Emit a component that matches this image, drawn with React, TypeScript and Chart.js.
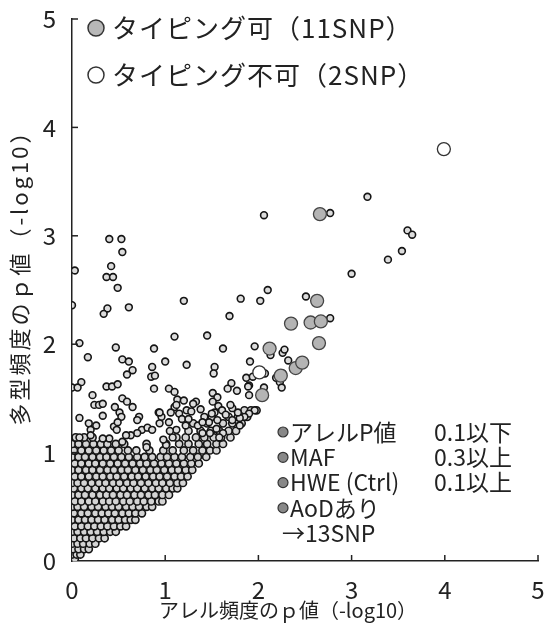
import React, { useEffect, useRef } from "react";
import { Chart, registerables } from "chart.js";

Chart.register(...registerables);

const FONT = '"Noto Sans CJK JP", "Noto Sans", sans-serif';

// axis ticks
const xTickValues = [0, 1, 2, 3, 4, 5];
const yTickValues = [0, 1, 2, 3, 4, 5];

// dense cloud: each row = [y, x values]
const cloudRows: [number, number[]][] = [
  [0.02, [0.0, 0.03]],
  [0.06, [0.0, 0.05, 0.09]],
  [0.11, [0.01, 0.07, 0.13, 0.18]],
  [0.16, [0.0, 0.06, 0.12, 0.19, 0.25]],
  [0.21, [0.02, 0.09, 0.15, 0.22, 0.29, 0.35]],
  [0.27, [0.0, 0.06, 0.13, 0.2, 0.27, 0.34, 0.41, 0.47]],
  [0.32, [0.03, 0.1, 0.17, 0.24, 0.31, 0.38, 0.45, 0.52, 0.58]],
  [0.38, [0.0, 0.07, 0.14, 0.21, 0.28, 0.35, 0.43, 0.5, 0.57, 0.63, 0.68]],
  [0.44, [0.02, 0.1, 0.17, 0.25, 0.32, 0.39, 0.46, 0.54, 0.61, 0.68, 0.75]],
  [0.5, [0.0, 0.06, 0.13, 0.21, 0.28, 0.36, 0.43, 0.5, 0.58, 0.65, 0.72, 0.8, 0.86]],
  [0.55, [0.03, 0.1, 0.18, 0.25, 0.33, 0.4, 0.47, 0.55, 0.62, 0.7, 0.77, 0.85, 0.93, 0.97]],
  [0.61, [0.0, 0.07, 0.14, 0.22, 0.3, 0.37, 0.44, 0.52, 0.59, 0.67, 0.74, 0.82, 0.89, 0.97, 1.04]],
  [0.67, [0.02, 0.1, 0.17, 0.25, 0.33, 0.4, 0.48, 0.55, 0.63, 0.7, 0.78, 0.86, 0.93, 1.01, 1.08, 1.13]],
  [0.72, [0.0, 0.06, 0.13, 0.21, 0.29, 0.36, 0.44, 0.51, 0.59, 0.66, 0.74, 0.82, 0.9, 0.97, 1.05, 1.13, 1.19]],
  [0.78, [0.03, 0.1, 0.18, 0.26, 0.33, 0.41, 0.48, 0.56, 0.64, 0.71, 0.79, 0.87, 0.94, 1.02, 1.1, 1.17, 1.24]],
  [0.84, [0.0, 0.07, 0.15, 0.22, 0.3, 0.38, 0.45, 0.53, 0.6, 0.68, 0.76, 0.84, 0.91, 0.99, 1.07, 1.14, 1.22, 1.29]],
  [0.9, [0.03, 0.1, 0.18, 0.25, 0.33, 0.41, 0.49, 0.57, 0.65, 0.73, 0.8, 0.88, 0.96, 1.04, 1.12, 1.2, 1.28, 1.36]],
  [0.96, [0.0, 0.07, 0.14, 0.22, 0.3, 0.37, 0.45, 0.53, 0.61, 0.7, 0.78, 0.86, 0.95, 1.02, 1.1, 1.18, 1.27, 1.35, 1.44]],
  [1.02, [0.02, 0.1, 0.18, 0.26, 0.34, 0.42, 0.5, 0.6, 0.69, 0.83, 0.98, 1.08, 1.2, 1.3, 1.4, 1.48, 1.55]],
  [1.08, [0.0, 0.07, 0.15, 0.23, 0.31, 0.38, 0.47, 0.56, 0.8, 1.01, 1.15, 1.25, 1.36, 1.45, 1.55, 1.62]],
  [1.14, [0.04, 0.13, 0.22, 1.12, 1.22, 1.33, 1.42, 1.52, 1.6, 1.7]],
  [1.2, [1.25, 1.38, 1.49, 1.58, 1.68, 1.76]],
  [1.27, [1.3, 1.45, 1.62, 1.72, 1.82]],
  [1.33, [1.5, 1.68, 1.78, 1.88]],
  [1.39, [1.85, 1.92, 1.98]],
];

// scattered small points [x, y]
const scatterPoints: [number, number][] = [
  [0.4, 2.97], [0.53, 2.97], [0.54, 2.85], [0.42, 2.72], [0.03, 2.68], [0.37, 2.62], [0.44, 2.62],
  [0.49, 2.52], [0.0, 2.36], [0.38, 2.33], [0.34, 2.28], [0.61, 2.34], [0.08, 2.01], [0.47, 1.97],
  [1.1, 2.07], [0.17, 1.88], [0.54, 1.86], [0.61, 1.84], [0.88, 1.96], [1.0, 1.84], [0.65, 1.76],
  [0.59, 1.72], [0.86, 1.79], [0.85, 1.7], [0.89, 1.71], [0.1, 1.65], [0.0, 1.6], [0.06, 1.6],
  [0.37, 1.61], [0.43, 1.61], [0.49, 1.63], [0.88, 1.59], [1.04, 1.59], [1.2, 2.4], [1.45, 2.08],
  [1.69, 2.26], [1.81, 2.42], [2.02, 2.4], [2.1, 2.5], [2.06, 3.19], [2.77, 3.21], [2.51, 2.44],
  [2.77, 2.24], [1.96, 1.98], [2.13, 1.9], [2.26, 1.92], [2.28, 1.95], [2.32, 1.85], [1.91, 1.84],
  [2.07, 1.73], [2.26, 1.73], [1.87, 1.69], [1.94, 1.7], [2.19, 1.69], [2.23, 1.65], [2.25, 1.6],
  [1.9, 1.62], [1.9, 1.53], [2.06, 1.6], [1.62, 1.96], [1.23, 1.81], [1.53, 1.79], [1.52, 1.73],
  [1.71, 1.64], [1.67, 1.59], [1.77, 1.57], [1.89, 1.61], [1.51, 1.55], [1.56, 1.51], [1.96, 1.39],
  [1.9, 1.36], [1.85, 1.33], [3.17, 3.36], [3.6, 3.05], [3.65, 3.01], [3.54, 2.86], [3.39, 2.78],
  [3.0, 2.65], [0.22, 1.53], [1.1, 1.56], [0.24, 1.44], [0.29, 1.44], [0.33, 1.45], [0.54, 1.5],
  [0.59, 1.47], [0.65, 1.42], [0.46, 1.42], [0.51, 1.37], [0.53, 1.33], [1.13, 1.49], [1.1, 1.42],
  [1.06, 1.37], [0.93, 1.37], [0.96, 1.33], [1.04, 1.28], [1.15, 1.36], [1.18, 1.31], [0.08, 1.32],
  [0.33, 1.34], [0.18, 1.27], [0.26, 1.25], [0.2, 1.21], [0.45, 1.24], [0.48, 1.21], [0.49, 1.28],
  [0.72, 1.33], [0.7, 1.3], [0.75, 1.21], [0.81, 1.23], [0.86, 1.21], [0.7, 1.18], [0.63, 1.16],
  [0.58, 1.16], [0.4, 1.13], [0.33, 1.13], [0.08, 1.14], [0.2, 1.16], [0.94, 1.27], [1.08, 1.14],
  [1.12, 1.21], [1.01, 1.07], [0.8, 1.05], [0.54, 1.1], [1.51, 1.47], [1.57, 1.43], [1.53, 1.37],
  [1.61, 1.39], [1.72, 1.41], [1.8, 1.32], [1.33, 1.47], [1.23, 1.39], [1.12, 1.44], [0.94, 1.37],
  [1.2, 1.48], [1.3, 1.45], [1.28, 1.38], [1.38, 1.4], [1.42, 1.33], [1.5, 1.36], [1.47, 1.28],
  [1.56, 1.3], [1.65, 1.35], [1.7, 1.44], [1.72, 1.3], [1.78, 1.37], [1.8, 1.25], [1.25, 1.31],
  [1.35, 1.25], [1.55, 1.22], [1.62, 1.18], [1.4, 1.18], [0.98, 1.12], [1.05, 1.2], [1.22, 1.25],
  [1.4, 1.28], [1.58, 1.14], [1.48, 1.18],
];

// typing possible (11 SNP) [x, y]
const typedOk: [number, number][] = [
  [2.66, 3.2], [2.63, 2.4], [2.35, 2.19], [2.56, 2.2], [2.67, 2.21], [2.65, 2.01],
  [2.12, 1.96], [2.4, 1.78], [2.04, 1.53], [2.24, 1.71], [2.47, 1.83],
];

// typing impossible (2 SNP) [x, y]
const typedNg: [number, number][] = [
  [3.99, 3.8], [2.01, 1.74],
];

const cloudData = cloudRows.flatMap(([y, xs]) => xs.map((x) => ({ x, y })));
const scatterData = scatterPoints.map(([x, y]) => ({ x, y }));

const overlay = {
  id: "overlay",
  afterDraw(chart: any) {
    const ctx = chart.ctx as CanvasRenderingContext2D;
    const xs = chart.scales.x;
    const ys = chart.scales.y;
    const left = chart.chartArea.left;
    const bottom = chart.chartArea.bottom;
    ctx.save();
    ctx.strokeStyle = "#222";
    ctx.lineWidth = 1.5;
    // inward ticks
    xTickValues.slice(1).forEach((v) => {
      const px = xs.getPixelForValue(v);
      ctx.beginPath();
      ctx.moveTo(px, bottom);
      ctx.lineTo(px, bottom - 6);
      ctx.stroke();
    });
    yTickValues.slice(1).forEach((v) => {
      const py = ys.getPixelForValue(v);
      ctx.beginPath();
      ctx.moveTo(left, py);
      ctx.lineTo(left + 6, py);
      ctx.stroke();
    });

    const circle = (x: number, y: number, r: number, fill: string, stroke: string, lw: number) => {
      ctx.beginPath();
      ctx.arc(x, y, r, 0, Math.PI * 2);
      ctx.fillStyle = fill;
      ctx.fill();
      ctx.lineWidth = lw;
      ctx.strokeStyle = stroke;
      ctx.stroke();
    };

    ctx.fillStyle = "#222";
    ctx.textBaseline = "middle";
    ctx.textAlign = "left";
    // top-left legend
    ctx.font = `26px ${FONT}`;
    (ctx as any).letterSpacing = "1px";
    circle(96, 28, 8, "#b8b8b8", "#333", 1.5);
    ctx.fillStyle = "#222";
    ctx.fillText("タイピング可（11SNP）", 112, 28);
    circle(96, 75, 8, "#ffffff", "#333", 1.5);
    ctx.fillStyle = "#222";
    ctx.fillText("タイピング不可（2SNP）", 112, 75);
    (ctx as any).letterSpacing = "0px";

    // bottom-right notes
    ctx.font = `23px ${FONT}`;
    const notes: [string, string][] = [
      ["アレルP値", "0.1以下"],
      ["MAF", "0.3以上"],
      ["HWE (Ctrl)", "0.1以上"],
      ["AoDあり", ""],
    ];
    notes.forEach(([a, b], i) => {
      const y = 432 + i * 25.3;
      circle(283, y, 5, "#888", "#333", 1.2);
      ctx.fillStyle = "#222";
      ctx.fillText(a, 290, y);
      if (b) ctx.fillText(b, 434, y);
    });
    ctx.fillText("→13SNP", 282, 533);

    // axis titles
    ctx.font = `20px ${FONT}`;
    ctx.textAlign = "center";
    ctx.fillText("アレル頻度のｐ値（-log10）", 288, 610);
    ctx.save();
    ctx.translate(20, 272);
    ctx.rotate(-Math.PI / 2);
    ctx.font = `22px ${FONT}`;
    (ctx as any).letterSpacing = "3px";
    ctx.fillText("多型頻度のｐ値（-log10）", 0, 0);
    ctx.restore();
    ctx.restore();
  },
};

export default function App() {
  const ref = useRef<HTMLCanvasElement>(null);
  useEffect(() => {
    if (!ref.current) return;
    const chart = new Chart(ref.current, {
      type: "scatter",
      data: {
        datasets: [
          {
            label: "タイピング不可",
            data: typedNg.map(([x, y]) => ({ x, y })),
            pointRadius: 6.5,
            backgroundColor: "#ffffff",
            borderColor: "#333",
            borderWidth: 1.3,
          },
          {
            label: "タイピング可",
            data: typedOk.map(([x, y]) => ({ x, y })),
            pointRadius: 6.5,
            backgroundColor: "#b4b4b4",
            borderColor: "#444",
            borderWidth: 1.3,
          },
          {
            label: "scatter",
            data: scatterData,
            pointRadius: 3.4,
            backgroundColor: "#dcdcdc",
            borderColor: "#151515",
            borderWidth: 1.6,
          },
          {
            label: "cloud",
            data: cloudData,
            pointRadius: 3.6,
            backgroundColor: "#d4d4d4",
            borderColor: "#151515",
            borderWidth: 1.6,
          },
        ],
      },
      options: {
        responsive: false,
        animation: false,
        devicePixelRatio: 1,
        layout: { padding: { top: 19, right: 8, left: 0, bottom: 0 } },
        plugins: { legend: { display: false }, tooltip: { enabled: false } },
        scales: {
          x: {
            type: "linear",
            min: 0,
            max: 5,
            afterFit: (s: any) => { s.height = 67; s.paddingLeft = 0; s.paddingRight = 0; },
            afterBuildTicks: (s: any) => { s.ticks = xTickValues.map((v) => ({ value: v })); },
            ticks: { stepSize: 1, color: "#222", font: { size: 24, family: FONT }, padding: 14 },
            grid: { drawOnChartArea: false, drawTicks: false },
            border: { color: "#222", width: 1.5 },
          },
          y: {
            type: "linear",
            min: 0,
            max: 5,
            afterFit: (s: any) => { s.width = 72; s.paddingTop = 0; s.paddingBottom = 0; },
            afterBuildTicks: (s: any) => { s.ticks = yTickValues.map((v) => ({ value: v })); },
            ticks: { stepSize: 1, color: "#222", font: { size: 24, family: FONT }, padding: 16 },
            grid: { drawOnChartArea: false, drawTicks: false },
            border: { color: "#222", width: 1.5 },
          },
        },
      },
      plugins: [overlay],
    });
    return () => chart.destroy();
  }, []);
  return (
    <canvas
      ref={ref}
      width={546}
      height={628}
      style={{ position: "absolute", left: 0, top: 0, display: "block", background: "#fff" }}
    />
  );
}
